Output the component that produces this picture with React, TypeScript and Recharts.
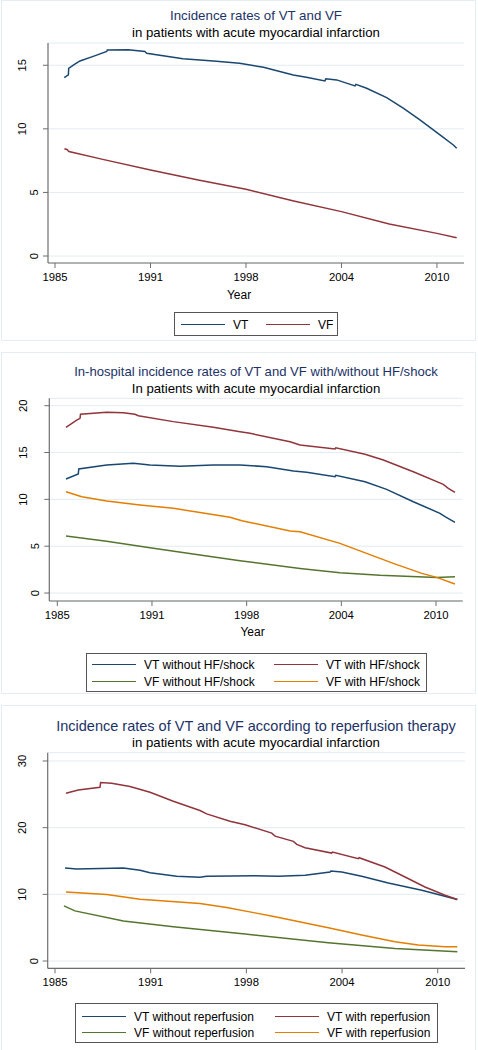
import React from 'react';
import { LineChart, Line, XAxis, YAxis, CartesianGrid } from 'recharts';

// shared x axis (evenly spaced year ticks)
const yearTicks = [0, 6, 12, 18, 24];
const yearLabels = ['1985', '1991', '1998', '2004', '2010'];

// ---------- Panel 1 ----------
const p1VtT = [0.58, 0.84, 0.86, 1.2, 1.57, 2.4, 3.25, 3.29, 4.6, 5.65, 5.76, 8.04, 9.95, 11.6, 13.1, 14.97, 15.8, 16.96, 17.02, 17.7, 18.85, 18.91, 19.58, 20.84, 21.88, 22.93, 24.19, 25.03, 25.24];
const p1VtV = [14.02, 14.24, 14.76, 15.05, 15.34, 15.7, 16.08, 16.2, 16.22, 16.08, 15.95, 15.52, 15.34, 15.16, 14.84, 14.24, 14.06, 13.77, 13.93, 13.85, 13.38, 13.5, 13.19, 12.46, 11.62, 10.7, 9.52, 8.73, 8.47];
const p1VfT = [0.59, 0.75, 0.88, 3, 6, 9, 12, 15, 18, 21, 24, 25.24];
const p1VfV = [8.44, 8.38, 8.21, 7.6, 6.77, 5.98, 5.25, 4.33, 3.49, 2.52, 1.78, 1.44];

// ---------- Panel 2 ----------
const p2VtNoT = [0.55, 1.33, 1.36, 3.13, 4.82, 5.87, 7.78, 9.89, 11.58, 13.27, 14.96, 15.8, 17.6, 17.65, 19.5, 20.87, 22.56, 24.25, 24.57, 25.2];
const p2VtNoV = [12.17, 12.71, 13.24, 13.67, 13.85, 13.67, 13.53, 13.67, 13.67, 13.49, 13.03, 12.89, 12.42, 12.56, 11.88, 11.07, 9.75, 8.51, 8.15, 7.55];
const p2VtHfT = [0.55, 1.23, 1.44, 1.47, 3.13, 4.18, 4.92, 5.13, 7.35, 9.89, 11.58, 12.21, 14.75, 15.38, 17.6, 17.65, 19.5, 20.66, 22.56, 24.46, 24.78, 25.2];
const p2VtHfV = [17.69, 18.47, 18.65, 19.08, 19.29, 19.25, 19.08, 18.93, 18.3, 17.69, 17.22, 17.05, 16.16, 15.8, 15.38, 15.5, 14.81, 14.2, 12.95, 11.6, 11.18, 10.75];
const p2VfNoT = [0.55, 3.13, 5.87, 9.04, 11.58, 15.38, 17.91, 20.45, 24.04, 25.2];
const p2VfNoV = [6.09, 5.52, 4.84, 4.06, 3.45, 2.63, 2.17, 1.89, 1.67, 1.73];
const p2VfHfT = [0.55, 1.55, 3.13, 5.24, 7.35, 9.04, 10.94, 11.7, 14.75, 15.38, 17.91, 19.6, 21.29, 23.1, 24.04, 25.2];
const p2VfHfV = [10.82, 10.28, 9.82, 9.4, 9.04, 8.61, 8.08, 7.72, 6.62, 6.55, 5.3, 4.23, 3.17, 2.1, 1.67, 0.96];

// ---------- Panel 3 ----------
const p3VtNoT = [0.63, 1.36, 4.29, 5.33, 5.96, 7.63, 9.09, 9.51, 12.54, 14.0, 15.68, 17.25, 17.3, 17.98, 19.23, 20.9, 23.0, 25.23];
const p3VtNoV = [13.95, 13.8, 13.95, 13.6, 13.25, 12.7, 12.56, 12.7, 12.8, 12.7, 12.86, 13.35, 13.5, 13.35, 12.7, 11.71, 10.61, 9.22];
const p3VtReT = [0.69, 1.46, 2.82, 2.86, 3.55, 4.7, 5.96, 7.42, 9.09, 9.51, 10.97, 11.92, 13.59, 13.8, 14.95, 15.16, 15.68, 17.35, 17.4, 19.02, 19.07, 20.69, 21.95, 23.2, 24.46, 25.23];
const p3VtReV = [25.16, 25.66, 26.06, 26.76, 26.66, 26.16, 25.31, 23.96, 22.57, 22.07, 20.97, 20.43, 19.18, 18.73, 17.94, 17.49, 17.0, 16.19, 16.34, 15.35, 15.49, 14.1, 12.6, 11.11, 9.87, 9.22];
const p3VfNoT = [0.56, 1.25, 4.29, 7.42, 11.92, 17.14, 21.32, 25.23];
const p3VfNoV = [8.27, 7.52, 6.02, 5.13, 4.04, 2.74, 1.89, 1.4];
const p3VfReT = [0.69, 3.24, 5.33, 9.09, 10.76, 12.54, 13.8, 17.14, 19.23, 21.32, 22.78, 24.46, 25.23];
const p3VfReV = [10.36, 9.97, 9.27, 8.62, 8.02, 7.22, 6.63, 4.98, 3.89, 2.89, 2.39, 2.14, 2.14];

const NAVY = '#1a476f';
const MAROON = '#90353b';
const GREEN = '#55752f';
const ORANGE = '#e37e00';
const FONT = '"Liberation Sans", Arial, Helvetica, sans-serif';
const AXIS = '#6e6e6e';
const GRID = '#e2ecf1';

const pts = (t: number[], v: number[]) => t.map((x, i) => ({ t: x, v: v[i] }));

const XTick = (props: any) => {
  const { x, y, payload } = props;
  const idx = yearTicks.indexOf(payload.value);
  return (
    <text x={x} y={y + 9} textAnchor="middle" dominantBaseline="central" fontSize={11.3} fontFamily={FONT} fill="#000">
      {idx >= 0 ? yearLabels[idx] : ''}
    </text>
  );
};

const YTick = (props: any) => {
  const { x, y, payload } = props;
  const label = String(payload.value);
  const cx = x - (label.length > 1 ? 21 : 9);
  return (
    <text x={cx} y={y} transform={`rotate(-90, ${cx}, ${y})`} textAnchor="middle" dominantBaseline="central" fontSize={11.3} fontFamily={FONT} fill="#000">
      {label}
    </text>
  );
};

type Series = { name: string; color: string; data: { t: number; v: number }[] };

type PanelProps = {
  top: number;
  height: number;
  margin: { top: number; right: number; bottom: number; left: number };
  xDomain: [number, number];
  yDomain: [number, number];
  yTicks: number[];
  series: Series[];
};

const Panel = ({ top, height, margin, xDomain, yDomain, yTicks, series }: PanelProps) => (
  <div style={{ position: 'absolute', left: 0, top, width: 478, height }}>
    <LineChart width={478} height={height} margin={margin}>
      <CartesianGrid vertical={false} stroke={GRID} strokeWidth={1} />
      <XAxis
        type="number"
        dataKey="t"
        domain={xDomain}
        ticks={yearTicks}
        allowDataOverflow
        height={30}
        tickSize={5}
        tickMargin={0}
        tick={XTick}
        axisLine={{ stroke: AXIS, strokeWidth: 1.2 }}
        tickLine={{ stroke: AXIS }}
        interval={0}
      />
      <YAxis
        type="number"
        dataKey="v"
        domain={yDomain}
        ticks={yTicks}
        allowDataOverflow
        width={40}
        tickSize={5}
        tickMargin={0}
        tick={YTick}
        axisLine={{ stroke: AXIS, strokeWidth: 1.2 }}
        tickLine={{ stroke: AXIS }}
        interval={0}
      />
      {series.map((s) => (
        <Line
          key={s.name}
          data={s.data}
          dataKey="v"
          name={s.name}
          type="linear"
          stroke={s.color}
          strokeWidth={1.5}
          dot={false}
          activeDot={false}
          isAnimationActive={false}
        />
      ))}
    </LineChart>
  </div>
);

const Legend = ({ left, top, width, height, rows, lineLeft, textLeft }: any) => (
  <div
    style={{
      position: 'absolute',
      left,
      top,
      width,
      height,
      boxSizing: 'border-box',
      border: '1px solid #555',
      background: '#fff',
    }}
  >
    {rows.map((row: any[], ri: number) =>
      row.map((item: any, ci: number) => (
        <React.Fragment key={`${ri}-${ci}`}>
          <div
            style={{
              position: 'absolute',
              left: lineLeft[ci] - left,
              top: item.y - top - 1,
              width: 44,
              height: 0,
              borderTop: `1.5px solid ${item.color}`,
            }}
          />
          <div
            style={{
              position: 'absolute',
              left: textLeft[ci] - left,
              top: item.y - top - 8,
              height: 16,
              lineHeight: '16px',
              fontSize: 12,
              fontFamily: FONT,
              color: '#000',
              whiteSpace: 'nowrap',
            }}
          >
            {item.name}
          </div>
        </React.Fragment>
      ))
    )}
  </div>
);

const Text = ({ x, y, size, color, children }: any) => (
  <div
    style={{
      position: 'absolute',
      left: x - 240,
      top: y - 10,
      width: 480,
      height: 20,
      lineHeight: '20px',
      textAlign: 'center',
      fontSize: size,
      fontFamily: FONT,
      color,
      whiteSpace: 'nowrap',
    }}
  >
    {children}
  </div>
);

const Frame = ({ top, height }: any) => (
  <div
    style={{
      position: 'absolute',
      left: 1,
      top,
      width: 475,
      height,
      boxSizing: 'border-box',
      border: '1px solid #e4edf0',
    }}
  />
);

export default function App() {
  const s1: Series[] = [
    { name: 'VT', color: NAVY, data: pts(p1VtT, p1VtV) },
    { name: 'VF', color: MAROON, data: pts(p1VfT, p1VfV) },
  ];
  const s2: Series[] = [
    { name: 'VT without HF/shock', color: NAVY, data: pts(p2VtNoT, p2VtNoV) },
    { name: 'VT with HF/shock', color: MAROON, data: pts(p2VtHfT, p2VtHfV) },
    { name: 'VF without HF/shock', color: GREEN, data: pts(p2VfNoT, p2VfNoV) },
    { name: 'VF with HF/shock', color: ORANGE, data: pts(p2VfHfT, p2VfHfV) },
  ];
  const s3: Series[] = [
    { name: 'VT without reperfusion', color: NAVY, data: pts(p3VtNoT, p3VtNoV) },
    { name: 'VT with reperfusion', color: MAROON, data: pts(p3VtReT, p3VtReV) },
    { name: 'VF without reperfusion', color: GREEN, data: pts(p3VfNoT, p3VfNoV) },
    { name: 'VF with reperfusion', color: ORANGE, data: pts(p3VfReT, p3VfReV) },
  ];

  return (
    <div style={{ position: 'absolute', left: 0, top: 0, width: 478, height: 1050, background: '#fff', overflow: 'hidden' }}>
      <Frame top={0} height={341} />
      <Frame top={352} height={342} />
      <Frame top={705} height={360} />

      {/* Panel 1 */}
      <Text x={256} y={16} size={13.3} color="#1c3266">Incidence rates of VT and VF</Text>
      <Text x={256} y={33} size={13.2} color="#000">in patients with acute myocardial infarction</Text>
      <Panel
        top={0}
        height={341}
        margin={{ top: 43, right: 14, bottom: 48, left: 8 }}
        xDomain={[-0.44, 25.7]}
        yDomain={[-0.55, 16.75]}
        yTicks={[0, 5, 10, 15]}
        series={s1}
      />
      <Text x={239} y={295} size={12} color="#000">Year</Text>
      <Legend
        left={174}
        top={312}
        width={164}
        height={24}
        lineLeft={[180, 265]}
        textLeft={[232, 317]}
        rows={[[{ name: s1[0].name, color: NAVY, y: 324 }, { name: s1[1].name, color: MAROON, y: 324 }]]}
      />

      {/* Panel 2 */}
      <Text x={256} y={371.7} size={13.1} color="#1c3266">In-hospital incidence rates of VT and VF with/without HF/shock</Text>
      <Text x={256} y={389} size={13.2} color="#000">In patients with acute myocardial infarction</Text>
      <Panel
        top={352}
        height={342}
        margin={{ top: 46.3, right: 15.3, bottom: 63, left: 9.3 }}
        xDomain={[-0.507, 25.69]}
        yDomain={[-0.85, 20.79]}
        yTicks={[0, 5, 10, 15, 20]}
        series={s2}
      />
      <Text x={252.5} y={632.3} size={12} color="#000">Year</Text>
      <Legend
        left={86}
        top={653}
        width={341}
        height={39}
        lineLeft={[91, 273]}
        textLeft={[143, 325]}
        rows={[
          [{ name: s2[0].name, color: NAVY, y: 664.3 }, { name: s2[1].name, color: MAROON, y: 664.3 }],
          [{ name: s2[2].name, color: GREEN, y: 681 }, { name: s2[3].name, color: ORANGE, y: 681 }],
        ]}
      />

      {/* Panel 3 */}
      <Text x={256} y={725.7} size={14.5} color="#1c3266">Incidence rates of VT and VF according to reperfusion therapy</Text>
      <Text x={256} y={743.3} size={13.2} color="#000">in patients with acute myocardial infarction</Text>
      <Panel
        top={705}
        height={345}
        margin={{ top: 47.7, right: 13, bottom: 51.7, left: 7.7 }}
        xDomain={[-0.458, 25.71]}
        yDomain={[-1.09, 31.24]}
        yTicks={[0, 10, 20, 30]}
        series={s3}
      />
      <Legend
        left={75}
        top={1003}
        width={363}
        height={40}
        lineLeft={[81, 274]}
        textLeft={[133, 326]}
        rows={[
          [{ name: s3[0].name, color: NAVY, y: 1016 }, { name: s3[1].name, color: MAROON, y: 1016 }],
          [{ name: s3[2].name, color: GREEN, y: 1032.3 }, { name: s3[3].name, color: ORANGE, y: 1032.3 }],
        ]}
      />
    </div>
  );
}
